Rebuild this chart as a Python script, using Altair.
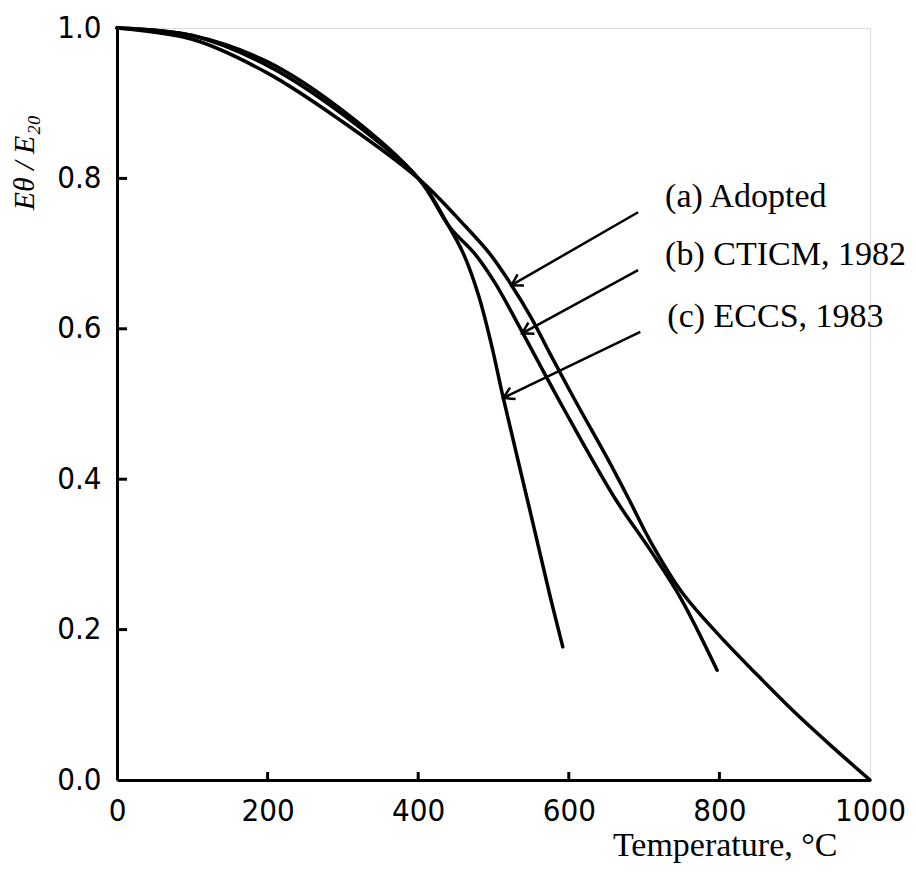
import math
import altair as alt
import pandas as pd

# ---- data ----
temp_a = [0, 100, 200, 300, 400, 462, 495, 522, 550, 575, 611, 650, 679, 708, 750, 800, 850, 900, 950, 1000]
e_a = [1.0, 0.985, 0.94, 0.875, 0.80, 0.737, 0.70, 0.661, 0.615, 0.567, 0.50, 0.43, 0.375, 0.318, 0.25, 0.192, 0.14, 0.09, 0.044, 0.0]

temp_b = [0, 100, 200, 300, 400, 442, 475, 502, 538, 592, 661, 708, 748, 797]
e_b = [1.0, 0.99, 0.95, 0.885, 0.80, 0.735, 0.70, 0.661, 0.596, 0.496, 0.375, 0.306, 0.243, 0.146]

temp_c = [0, 100, 200, 300, 402, 438, 460, 480, 497, 513, 548, 575, 592]
e_c = [1.0, 0.99, 0.955, 0.89, 0.798, 0.741, 0.70, 0.645, 0.58, 0.508, 0.36, 0.245, 0.177]

series_labels = ["(a) Adopted", "(b) CTICM, 1982", "(c) ECCS, 1983"]
# arrow annotations: start (near label) and tip (on curve)
arrow_x0 = [692, 692, 695]
arrow_y0 = [0.755, 0.678, 0.596]
arrow_x1 = [524, 538, 513]
arrow_y1 = [0.658, 0.594, 0.508]

x_ticks = [0, 200, 400, 600, 800, 1000]
y_ticks = [0.0, 0.2, 0.4, 0.6, 0.8, 1.0]

W, H = 753, 752

rows = []
for name, ts, es in [("a", temp_a, e_a), ("b", temp_b, e_b), ("c", temp_c, e_c)]:
    for t, e in zip(ts, es):
        rows.append({"series": name, "T": t, "E": e})
df = pd.DataFrame(rows)

arr = pd.DataFrame({
    "label": series_labels,
    "x0": arrow_x0, "y0": arrow_y0, "x1": arrow_x1, "y1": arrow_y1,
})
arr["angle"] = [
    (math.degrees(math.atan2(-(b1 - b0) * H, (a1 - a0) * W / 1000.0)) + 360) % 360
    for a0, b0, a1, b1 in zip(arr.x0, arr.y0, arr.x1, arr.y1)
]

xs = alt.Scale(domain=[0, 1000], nice=False)
ys = alt.Scale(domain=[0, 1], nice=False)

SANS = "DejaVu Sans Condensed, Liberation Sans Narrow, sans-serif"
SERIF = "Liberation Serif, DejaVu Serif, serif"

curves = alt.Chart(df).mark_line(
    color="black", strokeWidth=3.5, interpolate="catmull-rom", strokeCap="round"
).encode(
    x=alt.X("T:Q", scale=xs, axis=alt.Axis(
        values=x_ticks, format="d", ticks=False, tickSize=0, grid=False,
        domainColor="black", domainWidth=3, labelFont=SANS, labelFontSize=31,
        labelColor="black", labelPadding=16, labelFlush=False, labelOverlap=False,
        title="Temperature, °C", titleFont=SERIF, titleFontSize=34,
        titleFontWeight="normal", titleColor="black",
        titleAnchor="end", titleAlign="right", titleBaseline="alphabetic",
        titleX=720, titleY=75,
    )),
    y=alt.Y("E:Q", scale=ys, axis=alt.Axis(
        values=y_ticks, format=".1f", ticks=False, tickSize=0, grid=False,
        domainColor="black", domainWidth=3, labelFont=SANS, labelFontSize=31,
        labelColor="black", labelPadding=16, labelFlush=False, labelOverlap=False,
        title="Eθ / E₂₀", titleFont=SERIF, titleFontSize=30, titleFontStyle="italic",
        titleFontWeight="normal", titleColor="black", titleAngle=-90,
        titleAlign="center", titleBaseline="middle", titleX=-93, titleY=134,
    )),
    detail="series:N",
)

xt = alt.Chart(pd.DataFrame({"v": x_ticks[1:-1]})).mark_rule(
    color="black", strokeWidth=3
).encode(x=alt.X("v:Q", scale=xs), y=alt.value(H), y2=alt.value(H - 8))

yt = alt.Chart(pd.DataFrame({"v": y_ticks[1:-1]})).mark_rule(
    color="black", strokeWidth=3
).encode(y=alt.Y("v:Q", scale=ys), x=alt.value(0), x2=alt.value(10))

arrows = alt.Chart(arr).mark_rule(color="black", strokeWidth=2.5).encode(
    x=alt.X("x0:Q", scale=xs), y=alt.Y("y0:Q", scale=ys),
    x2="x1:Q", y2="y1:Q",
)

heads = alt.Chart(arr).mark_point(
    shape="M -1 -0.6 L 0 0 L -1 0.6", filled=False, color="black",
    strokeWidth=2.5, size=450, opacity=1,
).encode(
    x=alt.X("x1:Q", scale=xs), y=alt.Y("y1:Q", scale=ys),
    angle=alt.Angle("angle:Q", scale=None),
)

labels = alt.Chart(arr).mark_text(
    font=SERIF, fontSize=34, color="black", align="left", baseline="alphabetic",
    dx=27, dy=-5,
).encode(
    x=alt.X("x0:Q", scale=xs), y=alt.Y("y0:Q", scale=ys), text="label:N",
)

chart = alt.layer(curves, xt, yt, arrows, heads, labels).properties(
    width=W, height=H,
    autosize=alt.AutoSizeParams(type="none"),
    padding={"left": 109, "top": 20, "right": 38, "bottom": 84},
).configure_view(stroke=None).configure(background="white")

chart.save("out.html", embed_options={"renderer": "svg", "actions": False})
